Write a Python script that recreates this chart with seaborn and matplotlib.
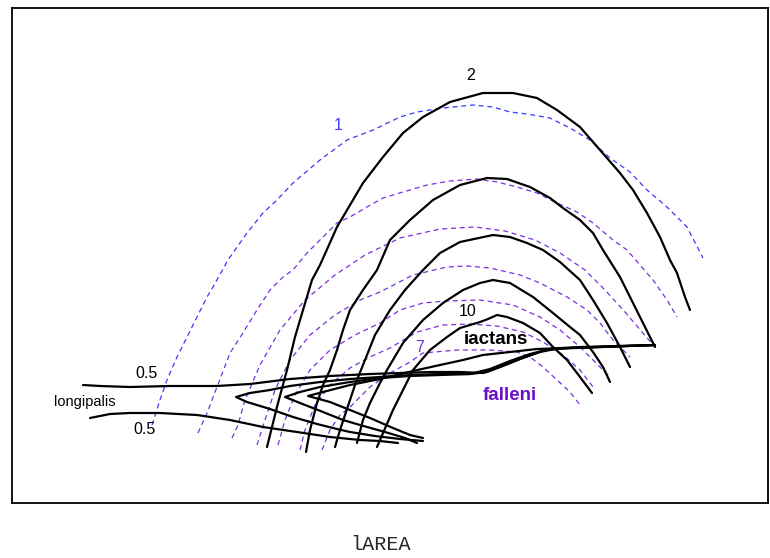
import matplotlib
matplotlib.use("Agg")
import matplotlib.pyplot as plt
import seaborn as sns
import pandas as pd

# ---- data (x = lAREA position, y = vertical position, screen units) ----
# iactans contours (black, solid), outermost (level 2) to innermost (level 10)
iact_1_x = [267, 272, 278, 287, 295, 303, 312, 320, 337, 350, 363, 383, 403, 423, 450, 483, 513, 537, 557, 580, 600, 620, 633, 647, 660, 670, 677, 685, 690]
iact_1_y = [447, 427, 403, 370, 337, 310, 280, 265, 227, 205, 183, 157, 133, 117, 102, 93, 93, 98, 110, 127, 150, 173, 190, 213, 237, 260, 273, 297, 310]
iact_2_x = [306, 310, 317, 323, 330, 337, 343, 350, 363, 377, 390, 410, 433, 460, 487, 507, 530, 550, 563, 580, 593, 603, 620, 633, 643, 655]
iact_2_y = [452, 430, 403, 385, 370, 350, 330, 310, 290, 270, 240, 220, 200, 185, 178, 179, 187, 198, 208, 220, 233, 250, 277, 303, 323, 347]
iact_3_x = [335, 340, 345, 355, 365, 375, 390, 405, 423, 440, 460, 493, 510, 527, 543, 560, 580, 593, 607, 620, 630]
iact_3_y = [447, 430, 415, 385, 360, 335, 310, 290, 270, 253, 242, 235, 237, 243, 250, 262, 280, 300, 323, 347, 367]
iact_4_x = [357, 363, 370, 380, 387, 403, 423, 443, 463, 480, 493, 510, 533, 553, 570, 580, 593, 603, 610]
iact_4_y = [443, 420, 403, 383, 370, 343, 320, 303, 290, 283, 280, 283, 297, 313, 327, 335, 352, 367, 382]
iact_5_x = [377, 393, 413, 430, 447, 460, 480, 488, 497, 507, 523, 540, 553, 567, 580, 592]
iact_5_y = [447, 410, 370, 350, 337, 328, 322, 319, 315, 317, 323, 333, 347, 360, 377, 393]

# longipalis contours (black, solid)
long_1u_x = [83, 100, 130, 170, 217, 250, 290, 330, 370, 400, 430, 460, 483, 500, 520, 540, 560, 600, 655]
long_1u_y = [385, 386, 387, 386, 386, 384, 379, 376, 374, 373, 372, 372, 373, 367, 359, 352, 348, 347, 345]
long_1l_x = [90, 110, 130, 160, 197, 230, 263, 297, 330, 360, 380, 398]
long_1l_y = [418, 414, 413, 413, 415, 420, 427, 432, 437, 440, 441, 443]
long_2_x = [423, 400, 375, 350, 337, 317, 293, 270, 247, 236, 250, 270, 290, 320, 350, 380, 410, 440, 470, 487, 505, 525, 545, 580, 655]
long_2_y = [441, 439, 436, 432, 429, 424, 417, 409, 402, 397, 393, 390, 386, 382, 379, 377, 375, 374, 374, 372, 365, 357, 350, 347, 345]
long_3_x = [417, 405, 385, 360, 343, 323, 300, 285, 300, 320, 350, 380, 410, 440, 470, 490, 510, 530, 550, 655]
long_3_y = [443, 438, 432, 425, 420, 412, 403, 397, 392, 387, 382, 378, 376, 375, 374, 369, 361, 354, 349, 345]
long_4_x = [423, 410, 393, 370, 350, 330, 308, 323, 350, 380, 413, 440, 463, 483, 510, 537, 655]
long_4_y = [438, 435, 428, 418, 410, 402, 396, 392, 385, 379, 371, 365, 360, 355, 352, 349, 345]

# falleni contours (dashed): level 1 in blue, inner levels in purple
fall_1_x = [152, 160, 167, 177, 187, 197, 207, 213, 228, 247, 263, 277, 293, 320, 347, 373, 400, 417, 443, 473, 493, 510, 527, 550, 570, 590, 610, 630, 647, 667, 687, 703]
fall_1_y = [425, 400, 380, 357, 337, 317, 297, 287, 260, 233, 213, 200, 183, 160, 140, 130, 117, 112, 108, 105, 107, 112, 114, 118, 128, 140, 158, 172, 190, 207, 227, 258]
fall_2_x = [198, 207, 217, 230, 243, 257, 270, 283, 293, 307, 323, 337, 350, 367, 383, 403, 427, 450, 477, 497, 517, 537, 557, 577, 593, 613, 627, 640, 653, 667, 677]
fall_2_y = [433, 413, 387, 353, 333, 310, 290, 277, 270, 253, 237, 223, 217, 207, 198, 192, 185, 181, 179, 182, 187, 193, 203, 212, 223, 240, 250, 265, 280, 300, 317]
fall_3_x = [232, 238, 245, 260, 280, 305, 335, 365, 400, 440, 475, 505, 535, 560, 585, 605, 625, 642, 655]
fall_3_y = [438, 425, 400, 365, 330, 300, 275, 255, 238, 229, 227, 231, 240, 253, 270, 290, 312, 332, 347]
fall_4_x = [257, 265, 275, 290, 310, 335, 360, 380, 413, 447, 467, 490, 520, 540, 567, 587, 600, 613, 630]
fall_4_y = [445, 420, 390, 360, 335, 315, 300, 292, 275, 267, 266, 268, 275, 283, 297, 310, 323, 340, 357]
fall_5_x = [278, 285, 295, 310, 330, 355, 380, 400, 423, 447, 480, 513, 540, 560, 580, 593, 610]
fall_5_y = [445, 420, 395, 370, 350, 335, 323, 310, 303, 301, 300, 305, 317, 330, 347, 360, 377]
fall_6_x = [300, 305, 315, 330, 350, 370, 390, 417, 443, 470, 497, 523, 543, 563, 580, 593]
fall_6_y = [450, 430, 405, 385, 368, 357, 348, 332, 325, 324, 326, 332, 342, 355, 370, 387]
fall_7_x = [322, 330, 340, 350, 370, 390, 410, 423, 457, 490, 517, 530, 543, 557, 570, 580]
fall_7_y = [450, 430, 415, 407, 387, 373, 362, 353, 350, 350, 352, 357, 367, 380, 392, 405]

BLACK = "#000000"
PURPLE = "#7a2fe0"
BLUE = "#3a3aff"

sns.set_style("white")
plt.rcParams["font.family"] = ["Liberation Sans", "DejaVu Sans"]

fig = plt.figure(figsize=(7.7, 5.58), dpi=100)
ax = fig.add_axes([12 / 770, 55 / 558, 756 / 770, 495 / 558])


def draw(xs, ys, color, lw, dashed=False):
    df = pd.DataFrame({"x": xs, "y": ys})
    kw = dict(linestyle=(0, (4, 3))) if dashed else {}
    sns.lineplot(data=df, x="x", y="y", sort=False, estimator=None, color=color,
                 linewidth=lw, ax=ax, **kw)


for xs, ys in [(fall_2_x, fall_2_y), (fall_3_x, fall_3_y), (fall_4_x, fall_4_y),
               (fall_5_x, fall_5_y), (fall_6_x, fall_6_y), (fall_7_x, fall_7_y)]:
    draw(xs, ys, PURPLE, 0.9, dashed=True)
draw(fall_1_x, fall_1_y, BLUE, 0.9, dashed=True)

for xs, ys in [(iact_1_x, iact_1_y), (iact_2_x, iact_2_y), (iact_3_x, iact_3_y),
               (iact_4_x, iact_4_y), (iact_5_x, iact_5_y),
               (long_1u_x, long_1u_y), (long_1l_x, long_1l_y), (long_2_x, long_2_y),
               (long_3_x, long_3_y), (long_4_x, long_4_y)]:
    draw(xs, ys, BLACK, 1.6)

ax.set_xlim(12, 768)
ax.set_ylim(503, 8)
ax.set_xticks([])
ax.set_yticks([])
ax.set_ylabel("")
ax.set_xlabel("lAREA", family=["Liberation Mono", "DejaVu Sans Mono"], fontsize=14.5)
ax.xaxis.set_label_coords((381 - 12) / 756, -(545 - 503) / 495)
ax.xaxis.label.set_va("center")
for s in ax.spines.values():
    s.set_visible(True)
    s.set_color("black")
    s.set_linewidth(1.3)

# contour labels
LAB = 11.5
ax.text(338, 126, "1", color=BLUE, fontsize=LAB, ha="center", va="center")
ax.text(471, 76, "2", color=BLACK, fontsize=LAB, ha="center", va="center")
ax.text(468, 312, "10", color=BLACK, fontsize=LAB, ha="center", va="center")
ax.text(420, 347, "7", color=PURPLE, fontsize=LAB, ha="center", va="center")
ax.text(147, 374, "0.5", color=BLACK, fontsize=LAB, ha="center", va="center")
ax.text(145, 429, "0.5", color=BLACK, fontsize=LAB, ha="center", va="center")
ax.text(85, 402, "longipalis", color=BLACK, fontsize=10.5, ha="center", va="center")
ax.text(496, 340, "iactans", color=BLACK, fontsize=13.5, fontweight="bold", ha="center", va="center")
ax.text(510, 396, "falleni", color="#6a10c8", fontsize=13.5, fontweight="bold", ha="center", va="center")

fig.savefig("out.png", dpi=100)
